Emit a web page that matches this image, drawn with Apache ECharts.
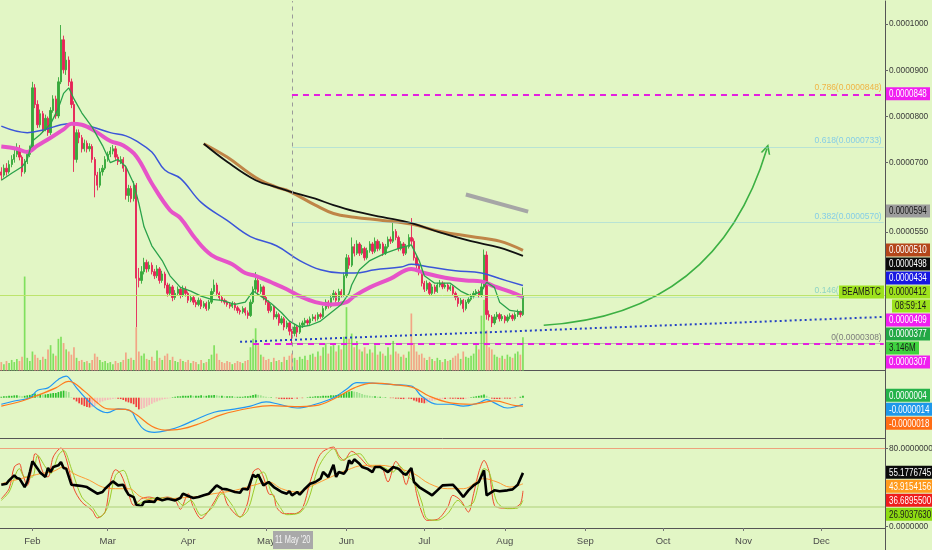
<!DOCTYPE html>
<html><head><meta charset="utf-8">
<script src="https://cdn.jsdelivr.net/npm/echarts@6/dist/echarts.min.js"></script>
<style>html,body{margin:0;padding:0;background:#e2f6c5;}#c{width:932px;height:550px;}</style>
</head><body><div id="c"></div>
<script>
// ---------- categories (daily, 2020) ----------
const dates = [];
for (let t = Date.UTC(2020,0,20); t <= Date.UTC(2020,11,25); t += 864e5) dates.push(new Date(t).toISOString().slice(5,10));
const monthNames = ['Jan','Feb','Mar','Apr','May','Jun','Jul','Aug','Sep','Oct','Nov','Dec'];
const priceTicks = [550,700,800,900,1000];      // x 1e-7 BTC
const stochTicks = [0,80];

// ---------- daily candles from 01-20 to 08-08 (price x 1e-7 BTC) ----------
const opens = [680,673,688,680,696,707,718,730,712,680, 702,718,730,862,826,782,806,772,796,765,
 813,838,801,875,966,901,922,875,826,707, 765,754,730,742,730,735,707,673,651,680,
 688,707,718,725,730,712,702,707,688,629, 644,622,651,450,445,464,484,470,478,464,
 455,470,445,459,435,417,431,408,417,426, 413,426,417,402,408,398,393,402,389,395,
 384,398,421,435,417,408,402,398,393,389, 395,386,380,377,384,375,369,398,426,445,
 421,431,408,398,380,389,366,371,353,362, 344,353,335,330,344,333,348,353,358,353,
 362,366,362,371,367,384,398,389,408,417, 402,421,413,455,494,478,518,504,524,504,
 514,494,510,524,508,530,514,524,504,518, 534,530,551,538,514,524,504,518,538,530,
 494,478,464,439,426,439,417,431,421,435, 439,431,435,426,431,417,408,395,402,384,
 398,404,411,417,421,413,431,500,371,366, 353,366,371,362,367,358,366,369,362,371, 377,371];
const closes = [673,688,680,696,707,718,730,712,680,702, 718,730,862,826,782,806,772,796,765,813,
 838,801,875,966,901,922,875,826,707,765, 754,730,742,730,735,707,673,651,680,688,
 707,718,725,730,712,702,707,688,629,644, 622,651,450,445,464,484,470,478,464,455,
 470,445,459,435,417,431,408,417,426,413, 426,417,402,408,398,393,402,389,395,384,
 398,421,435,417,408,402,398,393,389,395, 386,380,377,384,375,369,398,426,445,421,
 431,408,398,380,389,366,371,353,362,344, 353,335,330,344,333,348,353,358,353,362,
 366,362,371,367,384,398,389,408,417,402, 421,413,455,494,478,518,504,524,504,514,
 494,510,524,508,530,514,524,504,518,534, 530,551,538,514,524,504,518,538,530,494,
 478,464,439,426,439,417,431,421,435,439, 431,435,426,431,417,408,395,402,384,398,
 404,411,417,421,413,431,500,371,366,353, 366,371,362,367,358,366,369,362,371,377, 371,412];
const lows = [662,668,672,676,690,700,712,705,670,676, 697,712,725,818,775,776,765,768,758,760,
 808,795,796,870,893,890,866,818,680,700, 742,722,724,722,724,700,625,640,646,672,
 684,702,712,718,706,695,697,680,620,615, 614,616,344,430,438,458,462,464,458,448,
 450,438,440,428,410,412,400,403,412,406, 409,410,396,398,392,387,389,383,385,379,
 380,394,416,411,402,397,393,388,384,385, 380,374,371,373,369,362,366,394,420,414,
 416,402,392,374,376,360,361,347,349,337, 340,326,305,324,322,329,342,347,348,349,
 357,356,358,362,364,380,384,386,402,397, 398,408,410,450,470,474,497,500,498,500,
 488,490,505,502,504,508,510,498,500,514, 524,526,532,508,510,498,500,514,522,488,
 470,456,432,420,422,412,413,416,418,430, 426,427,421,422,412,402,388,391,376,380,
 394,400,406,412,408,409,426,360,358,344, 349,360,356,357,352,354,361,357,358,366, 365,368];
const highs = [690,696,699,705,716,728,742,738,716,708, 724,737,875,870,835,815,812,804,800,820,
 846,845,885,998,975,940,930,882,833,772, 772,760,750,748,742,740,712,680,688,695,
 714,724,734,738,736,718,714,712,694,652, 650,660,656,472,476,494,490,486,484,470,
 478,474,466,464,440,438,435,424,432,430, 434,432,421,414,412,403,408,406,400,399,
 403,428,447,440,421,412,406,402,398,400, 398,390,384,389,387,380,404,432,463,450,
 437,434,412,402,394,392,378,375,368,366, 358,356,340,350,347,354,358,364,362,367,
 372,371,376,375,390,404,402,414,424,421, 427,426,462,502,500,538,524,532,528,522,
 518,516,530,528,538,534,530,528,524,540, 540,572,556,542,530,528,524,545,580,536,
 498,482,468,444,445,442,437,436,440,446, 443,440,439,436,434,421,412,407,405,403,
 409,416,422,426,425,440,512,508,380,370, 372,377,375,372,370,371,374,373,376,382, 380,430];
const volumes = [0.8,0.6,0.9,0.7,1.0,0.8,1.1,0.9,1.3,8.9, 1.2,0.9,1.8,1.5,1.2,1.0,1.3,1.1,2.0,2.4,
 1.6,1.4,3.0,3.2,2.6,2.0,1.8,1.5,2.2,1.2, 0.9,1.0,0.8,0.9,0.7,1.0,1.6,1.3,1.0,0.8,
 0.9,0.7,0.8,0.6,0.9,0.7,0.8,1.0,1.7,1.1, 1.2,1.0,4.1,1.8,1.4,1.6,1.1,1.0,1.3,0.9,
 1.9,1.2,1.0,1.4,1.6,1.0,1.3,0.9,0.8,1.1, 0.9,0.8,1.0,0.7,0.9,0.8,0.6,1.0,0.7,0.8,
 1.1,1.5,2.4,1.6,1.0,0.8,0.7,0.9,0.8,0.6, 0.7,0.9,0.8,0.7,0.9,1.0,2.2,3.0,4.0,2.4,
 1.5,1.3,1.0,1.1,0.8,1.2,0.9,1.0,0.8,1.3, 1.0,1.4,1.6,1.2,1.0,1.3,1.1,1.4,1.0,1.5,
 1.6,1.3,1.8,1.4,2.2,2.5,1.6,2.3,2.6,1.8, 2.4,2.0,3.2,6.0,3.0,3.5,2.2,2.8,2.0,1.8,
 2.2,1.6,2.0,1.7,2.4,1.5,1.8,1.6,1.4,2.2, 1.5,2.8,1.8,1.6,1.3,1.5,1.2,1.8,5.4,2.6,
 1.8,1.5,1.6,1.2,1.0,1.3,1.1,0.9,1.2,1.0, 0.8,1.1,0.9,1.0,1.2,1.4,1.6,1.1,1.8,1.3,
 1.2,1.4,1.6,2.4,2.0,5.2,6.7,3.8,2.2,2.0, 1.5,1.3,1.2,1.4,1.1,1.5,1.3,1.2,1.6,1.8, 1.5,3.146]; // millions
const macdHist = [2,3,3,4,4,5,5,4,3,4,5,6, 8,9,8,8,7,7,8,9,10,10,12,14,15,14,12,
 1,-4,-8,-12,-15,-18,-20,-21,-20,-18,-14, -10,-8,-6,-5,-4,-3,-2,-2,
 -3,-5,-8,-10,-12,-14,-20,-25,-24,-22, -19,-16,-13,-10,-8,-6,-4,-3,-2,-1,
 1,2,3,3,4,4,4,5,4,4, 4,5,4,4,5,5,6,5,4,4, 3,3,3,3,2,2,2,2,3,3, 4, 6,7,6, 5,3,2,1,1,0,
 -1,-2,-3,-3,-3,-3,-3,-2,-2,-1,-1,0, 1,2,2,3,3,3,4,4,4,5,5,6, 7,8,10,12,13,14,13,12,10,8,
 6,5,4,3,3,2,2,1,1, 0,-1,-1,-2,-2,-3,-3,-2,-2,-3, -6,-8,-10,-11,-12,-11,
 -9,-7,-6,-5,-4,-3,-3,-2,-2,-2, -2,-3,-3,-3,-2,-1, 1,2,3,4,5,7,4, 1,-2,-3,-3,-3,-2,-2,-2, -2,-1,-1,0,2,4];

// ---------- indicator lines, read at sample dates ----------
const blueMa = [['01-20',779],['01-30',765],['02-06',772],['02-12',782],['02-16',784],['02-24',777],['03-02',765],['03-08',758],['03-12',747],['03-18',723],['03-23',684],['03-29',666],['04-06',614],['04-16',575],['04-25',540],['05-05',520],['05-14',488],['05-22',468],['05-30',461],['06-04',461],['06-12',468],['06-22',474],['06-26',480],['07-03',474],['07-13',466],['07-23',461],['07-30',449],['08-08',434]];
const pinkMa = [['01-20',735],['01-26',730],['01-30',723],['02-03',737],['02-08',754],['02-13',772],['02-16',784],['02-20',782],['02-26',765],['03-02',747],['03-07',737],['03-12',714],['03-18',655],['03-25',597],['03-29',580],['04-04',534],['04-10',500],['04-18',480],['04-23',461],['04-27',455],['05-03',441],['05-09',426],['05-14',411],['05-20',398],['05-26',393],['06-01',398],['06-04',411],['06-10',430],['06-18',449],['06-26',470],['07-01',461],['07-09',451],['07-17',445],['07-23',443],['07-28',432],['08-03',421],['08-08',409]];
const greenStep = [['01-20',662],['01-24',677],['01-28',691],['01-30',707],['02-01',747],['02-04',761],['02-08',784],['02-11',818],['02-13',850],['02-15',862],['02-17',838],['02-20',808],['02-24',777],['02-28',737],['03-02',700],['03-05',707],['03-08',691],['03-11',655],['03-13',612],['03-15',561],['03-18',520],['03-22',488],['03-25',455],['03-29',430],['04-02',422],['04-06',411],['04-10',404],['04-14',402],['04-19',393],['04-23',398],['04-26',422],['04-29',411],['05-03',395],['05-07',375],['05-10',357],['05-14',344],['05-18',348],['05-22',357],['05-26',375],['05-30',393],['06-02',417],['06-03',435],['06-06',468],['06-10',488],['06-16',504],['06-22',516],['06-26',522],['06-29',488],['07-01',455],['07-05',439],['07-11',439],['07-15',422],['07-19',411],['07-23',422],['07-25',441],['07-28',430],['07-30',398],['08-03',380],['08-07',377],['08-08',377]];
const blackLine = [['04-07',741],['04-16',702],['04-27',662],['05-05',647],['05-10',638],['05-20',622],['05-27',608],['06-04',595],['06-15',582],['06-26',569],['07-07',549],['07-19',530],['07-30',516],['08-08',498]];
const brownLine = [['04-07',741],['04-16',712],['04-27',668],['05-05',647],['05-10',638],['05-20',608],['05-27',590],['06-04',582],['06-15',575],['06-26',567],['07-07',551],['07-19',540],['07-30',530],['08-08',510]];
const greyLine = [['07-17',631],['08-10',594]];
const dottedTrend = [['04-21',312],['12-25',366]];
const arrowPath = [['08-16',348],['11-10',730]];
const fibLevels = [['0.786',848,'#f0b445'],['0.618',733,'#86cde6'],['0.382',570,'#86cde6'],['0.146',408,'#8fd4c4'],['0',308,'#7d7d7d']];
const hDashes = [['05-11',848],['04-26',307]];
const lastPrice = 412;
const markDate = '05-11', markText = "11 May '20";

const macdLine = [['01-20',-14],['01-25',-7],['01-31',0],['02-03',16],['02-07',21],['02-11',39],['02-14',46],['02-15',43],['02-18',21],['02-22',-4],['02-26',-24],['03-01',-32],['03-05',-24],['03-10',-29],['03-12',-47],['03-15',-68],['03-19',-74],['03-25',-68],['03-29',-61],['04-03',-49],['04-11',-31],['04-18',-25],['04-25',-18],['05-01',-9],['05-06',-14],['05-13',-22],['05-20',-14],['05-27',0],['06-01',18],['06-05',32],['06-11',31],['06-19',28],['06-26',25],['06-30',3],['07-06',-14],['07-11',-14],['07-16',-18],['07-22',-11],['07-25',-4],['07-28',-11],['08-02',-22],['08-08',-14]];
const signalLine = [['01-20',-18],['01-28',-7],['02-03',5],['02-10',21],['02-15',35],['02-21',14],['02-26',-11],['03-01',-24],['03-08',-25],['03-12',-36],['03-18',-61],['03-23',-69],['03-29',-67],['04-06',-54],['04-14',-36],['04-25',-22],['05-03',-17],['05-12',-19],['05-20',-17],['05-28',0],['06-04',21],['06-11',31],['06-19',28],['06-27',21],['07-03',3],['07-11',-11],['07-19',-14],['07-28',-7],['08-05',-17],['08-08',-18]];

const rsi = [['01-20',43.0],['01-22',44.0],['01-23',47.5],['01-25',52.6],['01-26',49.9],['01-27',49.2],['01-29',40.6],['01-30',45.8],['01-31',56.0],['02-01',67.0],['02-03',59.5],['02-04',55.4],['02-05',53.3],['02-06',50.9],['02-07',60.2],['02-08',56.0],['02-09',61.2],['02-11',62.9],['02-12',66.3],['02-13',60.2],['02-14',59.5],['02-16',43.0],['02-18',42.3],['02-20',41.6],['02-22',40.6],['02-24',37.2],['02-26',33.8],['02-28',35.5],['02-29',38.9],['03-03',46.4],['03-05',42.3],['03-07',43.0],['03-08',37.2],['03-09',32.8],['03-11',30.3],['03-12',22.5],['03-14',20.8],['03-15',25.2],['03-17',25.9],['03-19',25.2],['03-20',29.3],['03-22',26.9],['03-24',28.6],['03-25',28.0],['03-27',26.9],['03-29',29.3],['03-30',33.8],['04-01',31.4],['04-03',29.3],['04-05',30.3],['04-07',32.1],['04-09',33.8],['04-11',39.6],['04-12',42.3],['04-14',38.9],['04-16',38.2],['04-19',35.5],['04-21',34.8],['04-22',38.9],['04-24',38.2],['04-26',53.3],['04-27',50.9],['04-28',53.3],['04-30',42.3],['05-02',45.8],['05-04',40.6],['05-06',37.2],['05-07',35.5],['05-09',33.8],['05-10',36.2],['05-11',32.1],['05-13',35.5],['05-14',32.8],['05-16',38.9],['05-18',44.0],['05-20',45.8],['05-22',49.2],['05-23',56.0],['05-25',50.9],['05-27',63.6],['05-28',50.9],['05-29',56.0],['05-31',54.3],['06-01',57.8],['06-02',68.0],['06-03',64.6],['06-04',69.1],['06-06',64.6],['06-07',61.2],['06-09',59.5],['06-11',56.0],['06-12',61.2],['06-14',61.2],['06-16',57.8],['06-17',56.0],['06-19',61.2],['06-21',59.5],['06-23',54.3],['06-24',53.3],['06-26',60.2],['06-27',45.8],['06-29',40.6],['07-01',37.2],['07-03',33.8],['07-04',32.1],['07-06',37.2],['07-08',42.3],['07-12',43.0],['07-14',37.2],['07-16',30.3],['07-18',37.2],['07-20',42.3],['07-22',45.8],['07-24',57.8],['07-25',32.1],['07-28',37.2],['07-30',36.2],['08-02',37.2],['08-04',38.2],['08-06',43.0],['08-08',55.1776745]];
const rsiMa = [['01-20',44.0],['01-25',47.5],['01-30',50.9],['02-04',54.3],['02-09',56.7],['02-13',61.2],['02-17',54.3],['02-23',47.5],['02-28',40.6],['03-04',38.9],['03-09',38.9],['03-14',30.3],['03-20',26.9],['03-28',29.3],['04-03',30.3],['04-11',33.8],['04-19',37.2],['04-26',42.3],['05-02',45.8],['05-07',38.9],['05-13',35.5],['05-19',42.3],['05-26',50.9],['06-01',57.8],['06-08',62.9],['06-14',62.9],['06-21',59.5],['06-27',54.3],['07-03',44.0],['07-10',38.9],['07-16',38.9],['07-24',49.2],['07-29',45.8],['08-03',40.6],['08-08',43.9154156]];
const stochK = [['01-20',28.6],['01-23',38.9],['01-25',61.2],['01-27',64.6],['01-28',56.0],['01-30',42.3],['02-01',62.9],['02-02',74.9],['02-03',73.2],['02-05',56.0],['02-07',50.9],['02-09',71.5],['02-12',80.7],['02-14',69.8],['02-17',38.9],['02-20',25.2],['02-24',16.6],['02-26',8.8],['02-29',14.9],['03-02',45.8],['03-04',58.4],['03-06',54.3],['03-09',33.8],['03-11',21.8],['03-14',28.6],['03-17',30.3],['03-20',28.6],['03-24',30.3],['03-27',26.9],['03-29',17.7],['04-01',33.8],['04-03',20.0],['04-06',8.1],['04-09',16.6],['04-11',25.2],['04-14',37.2],['04-16',23.5],['04-19',13.2],['04-21',9.8],['04-24',25.2],['04-26',56.0],['04-28',59.5],['04-30',50.9],['05-02',33.8],['05-04',32.1],['05-05',20.0],['05-08',13.2],['05-12',13.2],['05-15',18.4],['05-18',45.8],['05-21',69.8],['05-23',77.3],['05-27',81.7],['05-29',73.2],['05-31',68.0],['06-03',77.3],['06-06',71.5],['06-09',62.9],['06-11',61.2],['06-14',62.9],['06-17',45.8],['06-20',67.0],['06-22',59.5],['06-24',43.0],['06-26',59.5],['06-28',33.8],['06-30',14.9],['07-02',6.4],['07-06',7.4],['07-10',20.0],['07-12',32.1],['07-15',26.9],['07-18',14.9],['07-20',33.8],['07-22',56.0],['07-24',68.0],['07-26',56.0],['07-28',21.8],['07-31',19.0],['08-04',19.0],['08-07',23.5],['08-08',36.68955]];
const stochD = [['01-20',26.9],['01-23',35.5],['01-27',59.5],['01-29',50.9],['02-01',50.9],['02-03',73.2],['02-06',61.2],['02-08',54.3],['02-11',73.2],['02-13',78.3],['02-16',59.5],['02-20',30.3],['02-24',20.0],['02-27',9.8],['03-01',20.0],['03-04',52.6],['03-07',57.8],['03-10',38.9],['03-13',23.5],['03-17',28.6],['03-22',29.3],['03-27',28.6],['03-30',21.8],['04-02',26.9],['04-06',11.5],['04-10',18.4],['04-14',33.8],['04-18',21.8],['04-21',9.8],['04-24',16.6],['04-28',52.6],['04-30',56.0],['05-03',35.5],['05-06',21.8],['05-09',12.2],['05-14',14.2],['05-17',25.2],['05-21',59.5],['05-24',73.2],['05-27',80.0],['05-30',68.0],['06-03',73.2],['06-06',74.9],['06-10',62.9],['06-15',61.2],['06-19',56.0],['06-21',62.9],['06-25',50.9],['06-27',45.8],['06-30',25.2],['07-02',8.1],['07-06',6.4],['07-10',13.2],['07-14',26.9],['07-17',20.0],['07-20',25.2],['07-24',59.5],['07-26',56.0],['07-29',25.2],['08-02',18.4],['08-06',19.0],['08-08',26.903763]];

// right-side price tags: [value, text, background, text colour]
const priceTags = [[848,'0.0000848','#f01ef0','#fff'],[594,'0.0000594','#9d9d9d','#1a1a1a'],[510,'0.0000510','#b4461a','#fff'],[498,'0.0000498','#0b0b0b','#fff'],[434,'0.0000434','#1818e2','#fff'],[412,'0.0000412','#9de21c','#1a1a1a'],[409,'0.0000409','#f01ef0','#fff'],[377,'0.0000377','#22a845','#fff'],[307,'0.0000307','#f01ef0','#fff']];
const volumeTag = [3.146,'3.146M','#3fd23f','#1a1a1a'];
const macdTags = [[4,'0.0000004','#24b24a','#fff'],[-14,'-0.0000014','#1e98ea','#fff'],[-18,'-0.0000018','#ff6d14','#fff']];
const stochTags = [[55.1776745,'55.1776745','#0b0b0b','#fff'],[43.9154156,'43.9154156','#ff9a1c','#fff'],[36.68955,'36.6895500','#ef1c1c','#fff'],[26.903763,'26.9037630','#8edc12','#1a1a1a']];
const symbolName = 'BEAMBTC', countdown = '08:59:14';

// ---------- build ----------
const FONT = "'Liberation Sans','DejaVu Sans',sans-serif";
const UP = '#37a83b', DOWN = '#e52457';
const idx = d => dates.indexOf(d);
const pts = arr => arr.map(([d, v]) => [idx(d), v]);
const fmt7 = v => (v / 1e7).toFixed(7);
const candles = opens.map((o, i) => [o, closes[i], lows[i], highs[i]]);
const volData = volumes.map((v, i) => ({value: v, itemStyle: {color: closes[i] >= opens[i] ? '#80e05e' : '#f2a585'}}));
const histData = macdHist.map((v, i) => {
  const p = i > 0 ? macdHist[i-1] : v;
  const c = v >= 0 ? (v >= p ? '#2cc02c' : '#9fe28f') : (v <= p ? '#f23b3b' : '#f6b9b9');
  return {value: v, itemStyle: {color: c}};
});
const lastIdx = dates.length - 1;
const mk = idx(markDate);

const xCat = (gi, showLabels) => ({
  type: 'category', gridIndex: gi, data: dates, boundaryGap: true,
  axisLine: {show: true, onZero: false, lineStyle: {color: '#555', width: 1}},
  axisTick: showLabels ? {show: true, alignWithLabel: true, length: 3, interval: (i, v) => v.endsWith('-01'), lineStyle: {color: '#777'}} : {show: false},
  axisLabel: showLabels ? {show: true, interval: (i, v) => v.endsWith('-01'), formatter: v => monthNames[+v.slice(0,2) - 1], color: '#4a4a4a', fontSize: 9.5, fontFamily: FONT, margin: 8} : {show: false},
  splitLine: {show: false}
});
const yRight = (gi, min, max, ticks, formatter) => ({
  type: 'value', gridIndex: gi, position: 'right', min, max, scale: false,
  axisLine: {show: true, lineStyle: {color: '#555', width: 1}},
  axisTick: ticks ? {show: true, length: 3, customValues: ticks, lineStyle: {color: '#666'}} : {show: false},
  axisLabel: ticks ? {show: true, customValues: ticks, formatter, color: '#3a3a3a', fontSize: 8.3, fontFamily: FONT, margin: 4} : {show: false},
  splitLine: {show: false}
});
const lineS = (data, color, width, extra) => Object.assign({
  type: 'line', xAxisIndex: 0, yAxisIndex: 0, data: pts(data), symbol: 'none', showSymbol: false,
  lineStyle: {color, width}, silent: true, animation: false
}, extra || {});

const fibMarks = fibLevels.map(([r, v, c]) => [
  {coord: [mk, v], lineStyle: {color: r === '0.786' ? 'rgba(0,0,0,0)' : c, width: 1, type: 'solid', opacity: 0.45},
   label: {show: true, position: 'insideEndTop', formatter: `${r}(${fmt7(v)})`, color: c, opacity: 1, fontSize: 8.5, fontFamily: FONT, distance: 2}},
  {coord: [lastIdx, v]}
]);
const dashMarks = hDashes.map(([d, v]) => [
  {coord: [idx(d), v], lineStyle: {color: '#e41fe0', width: 2, type: [6, 5]}, label: {show: false}},
  {coord: [lastIdx, v]}
]);

const option = {
  backgroundColor: '#e2f6c5',
  animation: false,
  grid: [
    {left: 0, right: 47, top: 1, height: 369.5, containLabel: false, outerBoundsMode: 'none'},
    {left: 0, right: 47, top: 370.5, height: 67.5, containLabel: false, outerBoundsMode: 'none'},
    {left: 0, right: 47, top: 438, height: 90, containLabel: false, outerBoundsMode: 'none'}
  ],
  xAxis: [xCat(0, false), xCat(1, false), xCat(2, true)],
  yAxis: [
    yRight(0, 250, 1050, priceTicks, fmt7),
    {type: 'value', gridIndex: 0, min: 0, max: 35, show: false},
    yRight(1, -86, 58, null),
    yRight(2, -1.5, 91, stochTicks, v => v.toFixed(7))
  ],
  series: [
    {type: 'bar', xAxisIndex: 0, yAxisIndex: 1, data: volData, barWidth: 1.7, silent: true, animation: false},
    {type: 'candlestick', xAxisIndex: 0, yAxisIndex: 0, data: candles, barWidth: 1.8, silent: true,
      itemStyle: {color: UP, color0: DOWN, borderColor: UP, borderColor0: DOWN, borderWidth: 0.9},
      markLine: {symbol: 'none', silent: true, animation: false, data: [
        {xAxis: mk, lineStyle: {color: '#9a9a9a', width: 1, type: [4, 4]}, label: {show: false}},
        {yAxis: lastPrice, lineStyle: {color: '#bde46c', width: 1, type: 'solid'}, label: {show: false}},
        ...fibMarks, ...dashMarks
      ]}},
    lineS(blueMa, '#3b55d8', 1.5, {smooth: 0.4}),
    lineS(pinkMa, '#e653c8', 4, {smooth: 0.4}),
    lineS(greenStep, '#2aa24a', 1.3),
    lineS(brownLine, '#bf8547', 3, {smooth: 0.4}),
    lineS(blackLine, '#111111', 1.8, {smooth: 0.4}),
    lineS(greyLine, '#a6a6a6', 4),
    lineS(dottedTrend, '#2341c4', 2, {lineStyle: {color: '#2341c4', width: 2, type: [2, 3]}}),
    {type: 'lines', coordinateSystem: 'cartesian2d', xAxisIndex: 0, yAxisIndex: 0, silent: true, animation: false,
      symbol: ['none', 'path://M0,10 L5,0 L10,10 L8.3,10 L5,3.6 L1.7,10 Z'], symbolSize: 10,
      lineStyle: {color: '#3cb043', width: 1.6, curveness: -0.35, opacity: 1},
      data: [{coords: pts(arrowPath)}]},
    {type: 'bar', xAxisIndex: 1, yAxisIndex: 2, data: histData, barWidth: 1.7, silent: true, animation: false},
    lineS(macdLine, '#2196f3', 1.2, {xAxisIndex: 1, yAxisIndex: 2, smooth: 0.4}),
    lineS(signalLine, '#ff7a1c', 1.2, {xAxisIndex: 1, yAxisIndex: 2, smooth: 0.4}),
    lineS(stochK, '#ef4b2c', 1, {xAxisIndex: 2, yAxisIndex: 3, smooth: 0.3}),
    lineS(stochD, '#9ccc2a', 1, {xAxisIndex: 2, yAxisIndex: 3, smooth: 0.3}),
    lineS(rsiMa, '#ff9a33', 1, {xAxisIndex: 2, yAxisIndex: 3, smooth: 0.4}),
    lineS(rsi, '#000000', 2.6, {xAxisIndex: 2, yAxisIndex: 3,
      markLine: {symbol: 'none', silent: true, animation: false, data: [
        {yAxis: 80, lineStyle: {color: '#eea27c', width: 1, type: 'solid'}, label: {show: false}},
        {yAxis: 20, lineStyle: {color: '#bfdd92', width: 1.5, type: 'solid'}, label: {show: false}}
      ]}})
  ]
};

const chart = echarts.init(document.getElementById('c'), null, {renderer: 'canvas'});
chart.setOption(option);

// ---------- value tags on the price scale ----------
const ctx = document.createElement('canvas').getContext('2d');
const TAGFONT = '10px ' + FONT;
ctx.font = TAGFONT;
const tw = (s, sx) => Math.ceil(ctx.measureText(s).width * sx);
function place(list, maxY) {
  list.sort((a, b) => a.y - b.y);
  let prev = -1e9;
  for (const t of list) { t.top = Math.max(t.y - 7, prev); prev = t.top + t.h; }
  let next = maxY;
  for (let i = list.length - 1; i >= 0; i--) { const t = list[i]; if (t.top + t.h > next) t.top = next - t.h; next = t.top; }
  return list;
}
const py = (ai, v) => chart.convertToPixel({yAxisIndex: ai}, v);
const mkList = (arr, ai) => arr.map(([v, text, bg, fg]) => ({y: py(ai, v), h: 14, text, bg, fg, main: v === lastPrice && ai === 0}));
const pList = mkList(priceTags, 0);
pList.forEach(t => { if (t.main) t.h = 28; });
pList.push({y: py(1, volumeTag[0]), h: 14, text: volumeTag[1], bg: volumeTag[2], fg: volumeTag[3]});
const all = [...place(pList, 369.5), ...place(mkList(macdTags, 2), 437), ...place(mkList(stochTags, 3), 527)];
const gfx = [];
const box = (x, y, text, bg, fg, hgt, sx, pad) => {
  const h = hgt || 13, s = sx || 0.8, p = pad == null ? 3 : pad, w = tw(text, s) + 2 * p;
  gfx.push({type: 'rect', z: 100, shape: {x, y, width: w, height: h}, style: {fill: bg}});
  gfx.push({type: 'text', z: 101, x: x + p, y: y + h / 2 + 0.5, scaleX: s, scaleY: 1, style: {text, fill: fg, font: TAGFONT, verticalAlign: 'middle', textVerticalAlign: 'middle'}});
  return w;
};
for (const t of all) {
  box(886, t.top, t.text, t.bg, t.fg);
  if (t.main) {
    const w = tw(symbolName, 0.8) + 6;
    box(884 - w, t.top, symbolName, t.bg, t.fg);
    box(892, t.top + 14, countdown, t.bg, t.fg);
  }
}
// date tag of the vertical line on the time scale
const mx = chart.convertToPixel({xAxisIndex: 2}, mk);
const mw = tw(markText, 0.74) + 4;
box(Math.round(mx - mw / 2) + 1, 531, markText, '#a9a9a9', '#f5f5f5', 18, 0.74, 2);
gfx.push({type: 'line', z: 50, shape: {x1: 885.5, y1: 528, x2: 885.5, y2: 550}, style: {stroke: '#555', lineWidth: 1}});
chart.setOption({graphic: gfx});
</script>
</body></html>
